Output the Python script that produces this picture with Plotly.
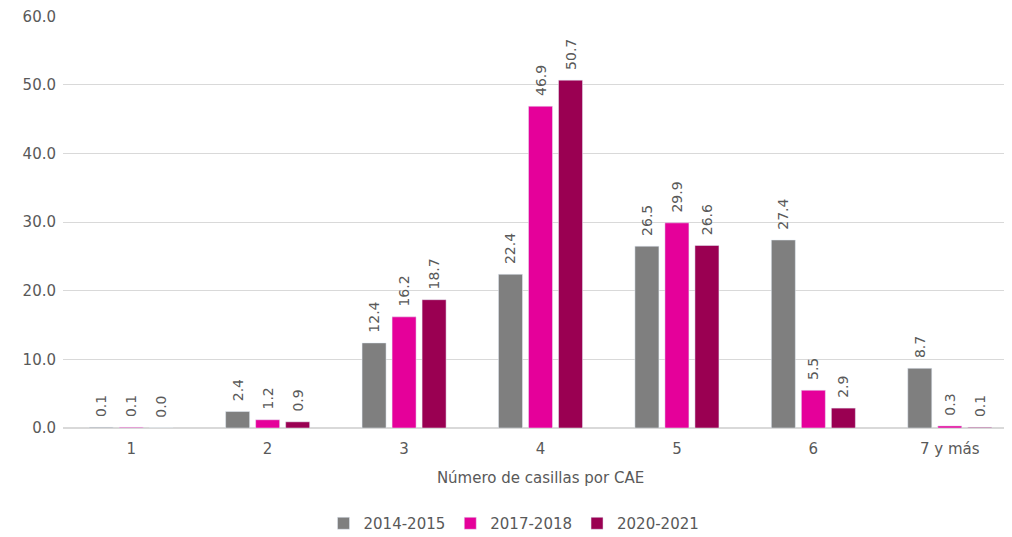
import plotly.graph_objects as go

categorias = ["1", "2", "3", "4", "5", "6", "7 y más"]
series = ["2014-2015", "2017-2018", "2020-2021"]
valores_2014 = [0.1, 2.4, 12.4, 22.4, 26.5, 27.4, 8.7]
valores_2017 = [0.1, 1.2, 16.2, 46.9, 29.9, 5.5, 0.3]
valores_2020 = [0.0, 0.9, 18.7, 50.7, 26.6, 2.9, 0.1]

colores = ["#7F7F7F", "#E5009A", "#9A0052"]
gris_texto = "#595959"
fuente = "DejaVu Sans, Arial, sans-serif"

fig = go.Figure()
for nombre, vals, col in zip(series, [valores_2014, valores_2017, valores_2020], colores):
    fig.add_trace(go.Bar(
        name=nombre,
        x=categorias,
        y=vals,
        marker=dict(color=col),
        # espacio delante para separar la etiqueta de la barra
        text=["\u00a0\u2009" + f"{v:.1f}" for v in vals],
        textposition="outside",
        textangle=-90,
        constraintext="none",
        textfont=dict(size=14, color=gris_texto),
        cliponaxis=False,
    ))

# la página tiene 8px de margen en el body, se compensa en los márgenes
fig.update_layout(
    width=1012,
    height=537,
    barmode="group",
    bargap=0.34,
    bargroupgap=0.2,
    plot_bgcolor="white",
    paper_bgcolor="white",
    font=dict(family=fuente, size=15, color=gris_texto),
    margin=dict(l=55, r=2, t=8, b=117, autoexpand=False),
    legend=dict(orientation="h", xref="container", x=0.5, xanchor="center",
                yref="container", y=0.04, yanchor="middle",
                font=dict(size=15, color=gris_texto), traceorder="normal"),
)
fig.update_xaxes(
    automargin=False,
    title=dict(text="Número de casillas por CAE", font=dict(size=15, color=gris_texto), standoff=15),
    showline=True, linecolor="#D9D9D9", linewidth=1, ticks="",
    tickfont=dict(size=15, color=gris_texto),
    ticklabelstandoff=7,
)
fig.update_yaxes(
    automargin=False,
    range=[0, 60.05], dtick=10, tickformat=".1f",
    showgrid=True, gridcolor="#D9D9D9", gridwidth=1,
    zeroline=True, zerolinecolor="#D9D9D9",
    tickfont=dict(size=15, color=gris_texto),
    ticklabelstandoff=6,
    ticklabeloverflow="allow",
)

fig.write_html("out.html")
